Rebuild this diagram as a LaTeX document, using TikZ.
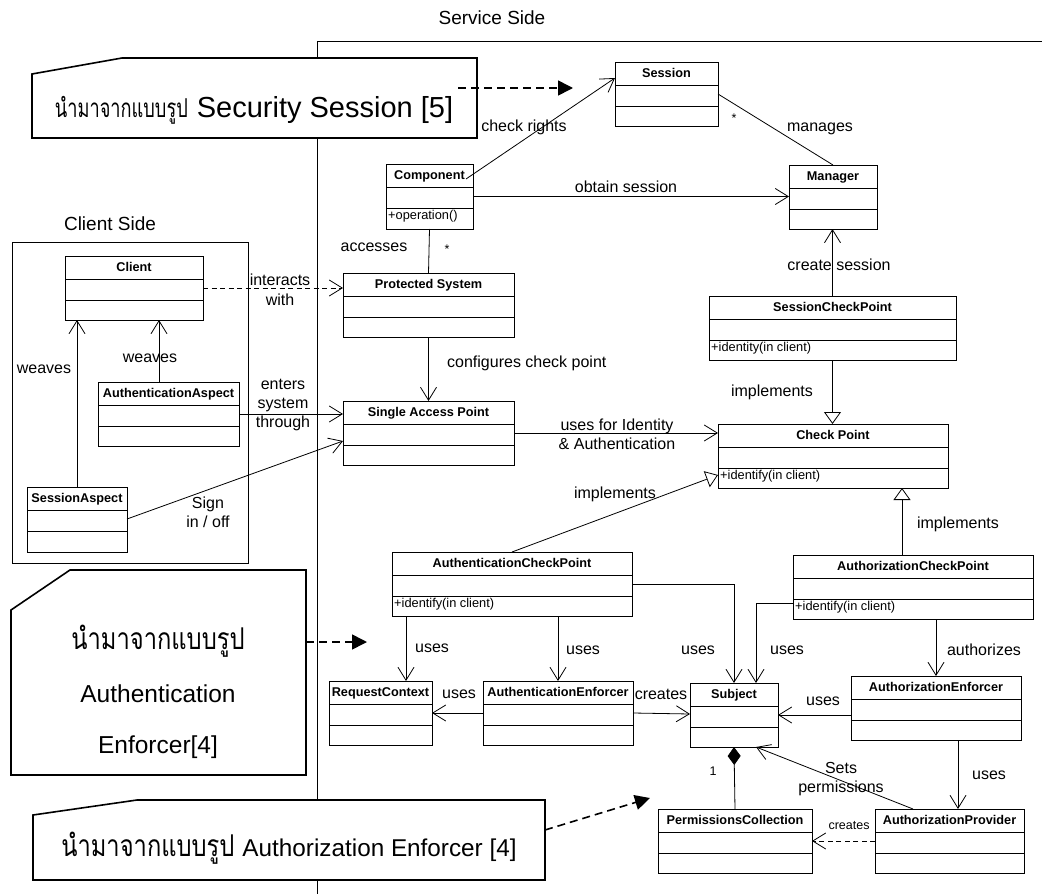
\documentclass[tikz,border=0pt]{standalone}
\usepackage{fontspec}
\setmainfont{Liberation Sans}
\newfontfamily\thaifont[Script=Thai, FakeStretch=0.79]{Loma}
\newfontfamily\thainarrow[Script=Thai, FakeStretch=0.70]{Loma}
\usetikzlibrary{arrows.meta,calc}

\tikzset{
  x=1pt, y=-1pt,
  classbox/.style={draw, line width=0.9pt, fill=white, rectangle, inner sep=0pt, outer sep=0pt},
  classline/.style={line width=0.9pt},
  cname/.style={font=\bfseries\fontsize{12.7}{14}\selectfont, inner sep=0pt, anchor=base},
  cop/.style={font=\fontsize{12.8}{14}\selectfont, inner sep=0pt, anchor=base west},
  lbl/.style={font=\fontsize{16}{19}\selectfont, inner sep=0pt, anchor=base},
  small/.style={font=\fontsize{12.5}{14}\selectfont, inner sep=0pt, anchor=base},
  title/.style={font=\fontsize{19}{22}\selectfont, inner sep=0pt, anchor=base},
  plain/.style={line width=0.8pt},
  assoc/.style={line width=0.8pt, -{Straight Barb[length=13pt,width=16pt]}},
  depend/.style={line width=0.8pt, dash pattern=on 5pt off 3.5pt, -{Straight Barb[length=13pt,width=16pt]}},
  realize/.style={line width=0.8pt, -{Triangle[open, fill=white, length=12pt, width=17pt]}},
  compose/.style={line width=0.8pt, {Diamond[length=18pt, width=13pt]}-},
  frame/.style={line width=0.9pt},
  note/.style={line width=1.6pt, fill=white, line join=miter},
  notetext/.style={inner sep=0pt, anchor=base},
  notearrow/.style={line width=1.6pt, dash pattern=on 8pt off 5pt, -{Triangle[length=15pt, width=15pt]}},
}

% UML class box: name, left, top, right, bottom, class name, operation
\newcommand{\umlclass}[7]{%
  \node[classbox, anchor=north west, minimum width={(#4-#2)*1pt}, minimum height={(#5-#3)*1pt}] (#1) at (#2,#3) {};
  \draw[classline] ($(#1.north west)+(0,23.5)$) -- ($(#1.north east)+(0,23.5)$);
  \draw[classline] ($(#1.north west)+(0,44)$) -- ($(#1.north east)+(0,44)$);
  \node[cname] (#1-t) at ($(#1.north)+(0,15.5)$) {#6};
  \if\relax\detokenize{#7}\relax\else
    \node[cop] (#1-o) at ($(#1.north west)+(2,55.5)$) {#7};
  \fi
}

\begin{document}
\begin{tikzpicture}
\useasboundingbox (0,0) rectangle (1042,894);

% service side frame
\draw[frame] (317,894) -- (317,41) -- (1042,41);
\node[title] (svc) at (492,24) {Service Side};

% client side frame
\draw[frame] (12,242) rectangle (248,563);
\node[title] (cli) at (110,230) {Client Side};

% pattern notes
\draw[note] (32,74) -- (122,58) -- (477,58) -- (477,138) -- (32,138) -- cycle;
\node[notetext] (n1t) at (254,117)
  {{\thainarrow\fontsize{26}{30}\selectfont นำมาจากแบบรูป}\hspace{9pt}{\fontsize{29}{32}\selectfont Security Session [5]}};

\draw[note] (11,610) -- (70,570) -- (306,570) -- (306,775) -- (11,775) -- cycle;
\node[notetext] (n2a) at (158,649) {\thaifont\fontsize{30}{34}\selectfont นำมาจากแบบรูป};
\node[notetext, font=\fontsize{24.5}{28}\selectfont] (n2b) at (158,702) {Authentication};
\node[notetext, font=\fontsize{24.5}{28}\selectfont] (n2c) at (158,753) {Enforcer[4]};

\draw[note] (33,815) -- (137,800) -- (545,800) -- (545,880) -- (33,880) -- cycle;
\node[notetext] (n3t) at (289,856)
  {{\thaifont\fontsize{30}{34}\selectfont นำมาจากแบบรูป}\hspace{8pt}{\fontsize{24.3}{28}\selectfont Authorization Enforcer [4]}};

\coordinate (n1from) at (458,88);
\coordinate (n1to) at (573,88);
\coordinate (n2from) at (306,642);
\coordinate (n2to) at (367,642);
\coordinate (n3from) at (545,830);
\coordinate (n3to) at (650,798);
\draw[notearrow] (n1from) -- (n1to);
\draw[notearrow] (n2from) -- (n2to);
\draw[notearrow] (n3from) -- (n3to);

% classes
\umlclass{sess}{615}{62}{718}{126}{Session}{}
\umlclass{comp}{386}{164}{473}{229}{Component}{+operation()}
\umlclass{mgr}{789}{165}{877}{229}{Manager}{}
\umlclass{prot}{343}{273}{514}{337}{Protected System}{}
\umlclass{sap}{343}{401}{514}{465}{Single Access Point}{}
\umlclass{client}{65}{256}{203}{320}{Client}{}
\umlclass{authasp}{98}{382}{239}{446}{AuthenticationAspect}{}
\umlclass{sessasp}{27}{487}{127}{552}{SessionAspect}{}
\umlclass{scp}{709}{296}{956}{360}{SessionCheckPoint}{+identity(in client)}
\umlclass{cp}{718}{424}{948}{488}{Check Point}{+identify(in client)}
\umlclass{acp}{392}{552}{632}{616}{AuthenticationCheckPoint}{+identify(in client)}
\umlclass{azcp}{793}{555}{1033}{619}{AuthorizationCheckPoint}{+identify(in client)}
\umlclass{rc}{329}{681}{432}{745}{RequestContext}{}
\umlclass{ae}{483}{681}{633}{745}{AuthenticationEnforcer}{}
\umlclass{subj}{690}{683}{778}{747}{Subject}{}
\umlclass{aze}{851}{676}{1021}{740}{AuthorizationEnforcer}{}
\umlclass{pc}{658}{809}{812}{873}{PermissionsCollection}{}
\umlclass{ap}{875}{809}{1024}{873}{AuthorizationProvider}{}

% connectors
\draw[assoc] ($(comp.north east)+(-7,15)$) -- ($(sess.north west)+(0,16)$);
\draw[plain] (sess.east) -- (mgr.north);
\draw[assoc] (comp.east) -- (comp.east -| mgr.west);
\draw[plain] (comp.south) -- (prot.north);
\draw[depend] (client.east) -- (client.east -| prot.west);
\draw[assoc] ($(authasp.north west)+(61,0)$) -- ($(client.south west)+(94,0)$);
\draw[assoc] (sessasp.north) -- (sessasp.north |- client.south);
\draw[assoc] (authasp.east) -- (authasp.east -| sap.west);
\draw[assoc] ($(sessasp.north east)+(0,32)$) -- ($(sap.north west)+(0,40)$);
\draw[assoc] (prot.south) -- (sap.north);
\draw[assoc] ($(sap.north east)+(0,32)$) -- ($(cp.north west)+(0,9)$);
\draw[assoc] (scp.north) -- (scp.north |- mgr.south);
\draw[realize] (scp.south) -- (scp.south |- cp.north);
\draw[realize] (acp.north) -- ($(cp.south west)+(0,-13)$);
\draw[realize] ($(azcp.north west)+(109,0)$) -- ($(cp.south west)+(184,0)$);
\draw[assoc] ($(acp.south west)+(14,0)$) -- ($(rc.north west)+(77,0)$);
\draw[assoc] ($(acp.south west)+(166,0)$) -- ($(ae.north west)+(75,0)$);
\draw[assoc] ($(acp.north east)+(0,32)$) -| ($(subj.north west)+(44,0)$);
\draw[assoc] ($(azcp.north west)+(0,48)$) -| ($(subj.north west)+(66,0)$);
\draw[assoc] ($(azcp.south west)+(143,0)$) -- ($(aze.north west)+(85,0)$);
\draw[assoc] ($(ae.north west)+(0,32)$) -- ($(rc.north east)+(0,32)$);
\draw[assoc] ($(ae.north east)+(0,32)$) -- ($(subj.north west)+(0,31)$);
\draw[assoc] ($(aze.north west)+(0,39)$) -- ($(subj.north east)+(0,32)$);
\draw[assoc] ($(aze.south west)+(107,0)$) -- ($(ap.north west)+(83,0)$);
\draw[assoc] ($(ap.north west)+(38,0)$) -- ($(subj.south east)+(-22,0)$);
\draw[compose] ($(subj.south west)+(44,0)$) -- (pc.north);
\draw[depend] ($(ap.north west)+(0,32)$) -- ($(pc.north east)+(0,32)$);

% connector labels
\node[lbl] (l1) at (524,131) {check rights};
\node[lbl] (l2) at (820,131) {manages};
\node[small] (l2m) at (734,122) {*};
\node[lbl] (l3) at (626,192) {obtain session};
\node[lbl] (l4) at (374,251) {accesses};
\node[small] (l4m) at (447,253) {*};
\node[lbl] (l5a) at (280,285) {interacts};
\node[lbl] (l5b) at (280,305) {with};
\node[lbl] (l6) at (150,362) {weaves};
\node[lbl] (l7) at (44,373) {weaves};
\node[lbl] (l8a) at (283,389) {enters};
\node[lbl] (l8b) at (283,408) {system};
\node[lbl] (l8c) at (283,427) {through};
\node[lbl] (l9a) at (208,508) {Sign};
\node[lbl] (l9b) at (208,527) {in / off};
\node[lbl, anchor=base west] (l10) at (447,367) {configures check point};
\node[lbl] (l11a) at (617,430) {uses for Identity};
\node[lbl] (l11b) at (617,449) {\& Authentication};
\node[lbl] (l12) at (839,270) {create session};
\node[lbl] (l13) at (772,396) {implements};
\node[lbl] (l14) at (615,498) {implements};
\node[lbl] (l15) at (958,528) {implements};
\node[lbl] (l16) at (432,652) {uses};
\node[lbl] (l17) at (583,654) {uses};
\node[lbl] (l18) at (698,654) {uses};
\node[lbl] (l19) at (787,654) {uses};
\node[lbl] (l20) at (984,655) {authorizes};
\node[lbl] (l21) at (459,698) {uses};
\node[lbl] (l22) at (661,699) {creates};
\node[lbl] (l23) at (823,705) {uses};
\node[lbl] (l24) at (989,779) {uses};
\node[lbl] (l25a) at (841,773) {Sets};
\node[lbl] (l25b) at (841,792) {permissions};
\node[small] (l26) at (713,775) {1};
\node[small] (l27) at (849,829) {creates};
\end{tikzpicture}
\end{document}
